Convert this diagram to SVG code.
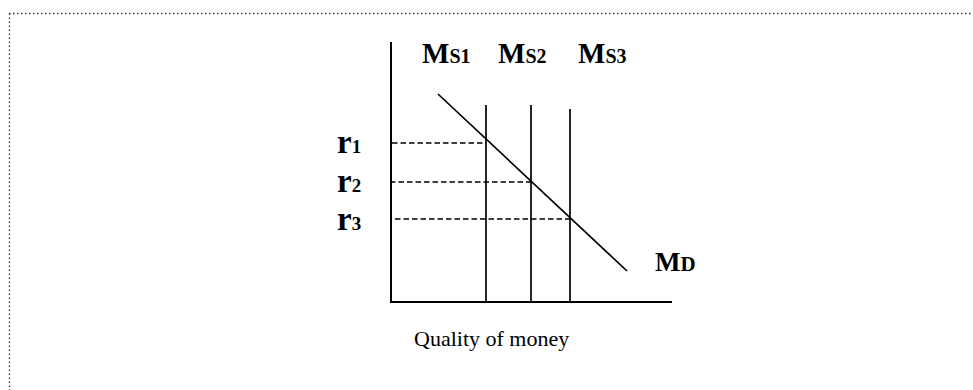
<svg xmlns="http://www.w3.org/2000/svg" width="973" height="390" viewBox="0 0 973 390">
<style>
.border{stroke:#333;stroke-width:1.3;stroke-dasharray:1.5 2.5;fill:none}
.ax{stroke:#000;stroke-width:2;fill:none}
.ln{stroke:#000;stroke-width:1.7;fill:none}
.dash{stroke:#000;stroke-width:1.6;stroke-dasharray:5.5 3;fill:none}
.lbl{font-family:"Liberation Serif","Times New Roman",serif;font-weight:bold;fill:#000}
.cap{font-family:"Liberation Serif","Times New Roman",serif;fill:#000;font-size:22px}
</style>
<rect width="973" height="390" fill="#fff"/>
<g id="frame">
<line class="border" x1="9" y1="13.5" x2="973" y2="13.5"/>
<line class="border" x1="9.5" y1="13.5" x2="9.5" y2="390"/>
</g>
<g id="axes">
<line class="ax" x1="391" y1="42" x2="391" y2="302"/>
<line class="ax" x1="390" y1="302" x2="672" y2="302"/>
</g>
<g id="connectors">
<line class="dash" x1="392" y1="143" x2="486" y2="143"/>
<line class="dash" x1="390" y1="182" x2="531" y2="182"/>
<line class="dash" x1="395" y1="219" x2="570" y2="219"/>
</g>
<g id="Ms1"><line class="ln" x1="486" y1="105" x2="486" y2="302"/><text class="lbl" x="422" y="63" font-size="29">M<tspan font-size="20">S1</tspan></text></g>
<g id="Ms2"><line class="ln" x1="531" y1="105" x2="531" y2="302"/><text class="lbl" x="498" y="63" font-size="29">M<tspan font-size="20">S2</tspan></text></g>
<g id="Ms3"><line class="ln" x1="570" y1="109" x2="570" y2="302"/><text class="lbl" x="578" y="63" font-size="29">M<tspan font-size="20">S3</tspan></text></g>
<g id="MD"><line class="ln" x1="438" y1="94" x2="627" y2="271"/><text class="lbl" x="655" y="271" font-size="27">M<tspan font-size="21">D</tspan></text></g>
<g id="r1"><text class="lbl" x="337" y="153" font-size="33">r<tspan font-size="19">1</tspan></text></g>
<g id="r2"><text class="lbl" x="337" y="192" font-size="33">r<tspan font-size="19">2</tspan></text></g>
<g id="r3"><text class="lbl" x="337" y="230" font-size="33">r<tspan font-size="19">3</tspan></text></g>
<g id="caption"><text class="cap" x="414" y="346">Quality of money</text></g>
</svg>
